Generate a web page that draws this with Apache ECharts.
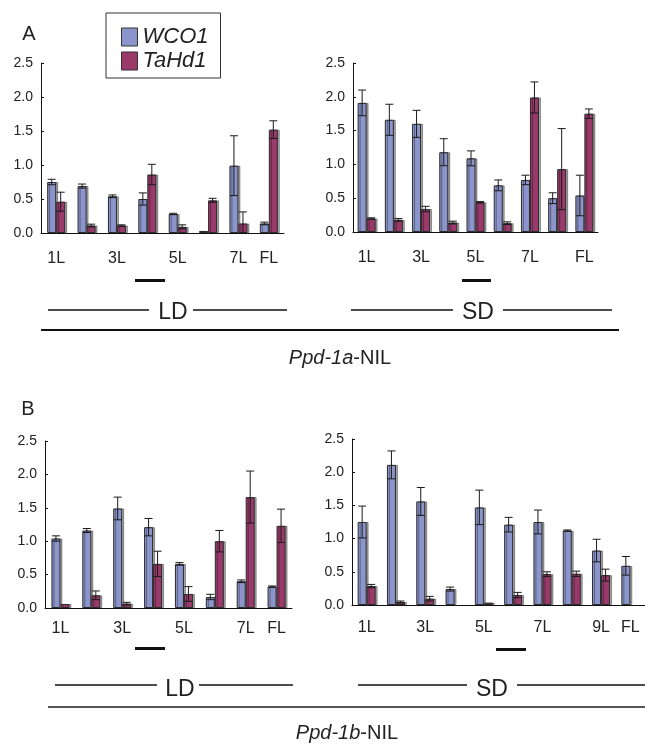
<!DOCTYPE html>
<html>
<head>
<meta charset="utf-8">
<script src="https://cdn.jsdelivr.net/npm/echarts@6/dist/echarts.min.js"></script>
<style>
html,body{margin:0;padding:0;background:#fff;}
#chart{width:645px;height:745px;}
</style>
</head>
<body>
<div id="chart"></div>
<script>
// ---------- DATA ----------
var seriesNames = ['WCO1', 'TaHd1'];
var yTicks = [0, 0.5, 1.0, 1.5, 2.0, 2.5];

// Panel A, LD (Ppd-1a-NIL)
var catsA_LD = ['1L','2L','3L','4L','5L','6L','7L','FL'];
var shownA_LD = ['1L','3L','5L','7L','FL'];
var wco1A_LD = [0.75, 0.69, 0.54, 0.50, 0.28, 0.03, 0.99, 0.14];
var wco1A_LD_err = [0.04, 0.03, 0.02, 0.09, 0.01, 0.0, 0.44, 0.02];
var tahd1A_LD = [0.46, 0.11, 0.11, 0.86, 0.09, 0.48, 0.14, 1.52];
var tahd1A_LD_err = [0.14, 0.02, 0.01, 0.15, 0.03, 0.03, 0.17, 0.13];

// Panel A, SD (Ppd-1a-NIL)
var catsA_SD = ['1L','2L','3L','4L','5L','6L','7L','8L','FL'];
var shownA_SD = ['1L','3L','5L','7L','FL'];
var wco1A_SD = [1.91, 1.66, 1.60, 1.18, 1.09, 0.69, 0.77, 0.50, 0.54];
var wco1A_SD_err = [0.19, 0.23, 0.20, 0.20, 0.11, 0.08, 0.07, 0.08, 0.30];
var tahd1A_SD = [0.20, 0.18, 0.34, 0.14, 0.44, 0.13, 1.99, 0.93, 1.75];
var tahd1A_SD_err = [0.01, 0.02, 0.04, 0.02, 0.01, 0.02, 0.23, 0.60, 0.07];

// Panel B, LD (Ppd-1b-NIL)
var catsB_LD = ['1L','2L','3L','4L','5L','6L','7L','FL'];
var shownB_LD = ['1L','3L','5L','7L','FL'];
var wco1B_LD = [1.04, 1.16, 1.49, 1.21, 0.66, 0.165, 0.40, 0.32];
var wco1B_LD_err = [0.04, 0.03, 0.17, 0.13, 0.02, 0.04, 0.02, 0.01];
var tahd1B_LD = [0.06, 0.19, 0.065, 0.66, 0.21, 1.00, 1.66, 1.23];
var tahd1B_LD_err = [0.0, 0.065, 0.02, 0.19, 0.11, 0.16, 0.39, 0.25];

// Panel B, SD (Ppd-1b-NIL)
var catsB_SD = ['1L','2L','3L','4L','5L','6L','7L','8L','9L','FL'];
var shownB_SD = ['1L','3L','5L','7L','9L','FL'];
var wco1B_SD = [1.25, 2.11, 1.56, 0.24, 1.47, 1.21, 1.25, 1.12, 0.82, 0.59];
var wco1B_SD_err = [0.24, 0.21, 0.21, 0.03, 0.26, 0.11, 0.18, 0.01, 0.17, 0.14];
var tahd1B_SD = [0.285, 0.045, 0.095, null, 0.035, 0.15, 0.465, 0.47, 0.45, null];
var tahd1B_SD_err = [0.025, 0.015, 0.035, null, 0.0, 0.04, 0.035, 0.04, 0.09, null];

// ---------- STYLE ----------
var FONT = "'Liberation Sans', Arial, sans-serif";
var COL_W = '#8c95cb';
var COL_T = '#993a6b';
var BARW = 9;

var panels = [
  {cats: catsA_LD, shown: shownA_LD, w: wco1A_LD, we: wco1A_LD_err, t: tahd1A_LD, te: tahd1A_LD_err,
   grid: {left: 41, top: 63, width: 243, height: 170}, lm: 18},
  {cats: catsA_SD, shown: shownA_SD, w: wco1A_SD, we: wco1A_SD_err, t: tahd1A_SD, te: tahd1A_SD_err,
   grid: {left: 353, top: 63, width: 245, height: 169}, lm: 18},
  {cats: catsB_LD, shown: shownB_LD, w: wco1B_LD, we: wco1B_LD_err, t: tahd1B_LD, te: tahd1B_LD_err,
   grid: {left: 45, top: 441, width: 247, height: 167}, lm: 13},
  {cats: catsB_SD, shown: shownB_SD, w: wco1B_SD, we: wco1B_SD_err, t: tahd1B_SD, te: tahd1B_SD_err,
   grid: {left: 352, top: 439, width: 293, height: 166}, lm: 15}
];

function errRender(sign) {
  return function (params, api) {
    var idx = api.value(0), v = api.value(1), e = api.value(2);
    if (v == null || isNaN(v) || e == null || isNaN(e) || e <= 0) return;
    var c = api.coord([idx, v]);
    var x = c[0] + sign * BARW / 2;
    var hi = api.coord([idx, v + e])[1];
    var lo = api.coord([idx, Math.max(0, v - e)])[1];
    var cap = 4;
    var st = {stroke: '#1a1a1a', lineWidth: 1};
    return {type: 'group', children: [
      {type: 'line', shape: {x1: x, y1: hi, x2: x, y2: lo}, style: st},
      {type: 'line', shape: {x1: x - cap, y1: hi, x2: x + cap, y2: hi}, style: st},
      {type: 'line', shape: {x1: x - cap, y1: lo, x2: x + cap, y2: lo}, style: st}
    ]};
  };
}

var grids = [], xAxes = [], yAxes = [], series = [];
panels.forEach(function (p, i) {
  grids.push(p.grid);
  var shown = p.shown;
  xAxes.push({
    type: 'category', gridIndex: i, data: p.cats,
    axisLine: {lineStyle: {color: '#111', width: 1}},
    axisTick: {inside: true, length: 4, lineStyle: {color: '#111'}},
    axisLabel: {
      interval: function (index, value) { return shown.indexOf(value) >= 0; },
      margin: p.lm, color: '#222', fontSize: 16, fontFamily: FONT
    }
  });
  yAxes.push({
    type: 'value', gridIndex: i, min: yTicks[0], max: yTicks[yTicks.length - 1], interval: 0.5,
    axisLine: {show: true, lineStyle: {color: '#111', width: 1}},
    axisTick: {show: true, inside: true, length: 3, lineStyle: {color: '#111'}},
    splitLine: {show: false},
    axisLabel: {margin: 8, color: '#222', fontSize: 14, fontFamily: FONT,
      formatter: function (v) { return v.toFixed(1); }}
  });
  var common = {type: 'bar', xAxisIndex: i, yAxisIndex: i, barWidth: BARW, barGap: '0%'};
  series.push(Object.assign({}, common, {
    name: 'WCO1', data: p.w,
    itemStyle: {color: COL_W, borderColor: '#2b2b2b', borderWidth: 1,
      shadowColor: 'rgba(0,0,0,0.35)', shadowOffsetX: 2, shadowOffsetY: 0, shadowBlur: 0}
  }));
  series.push(Object.assign({}, common, {
    name: 'TaHd1', data: p.t,
    itemStyle: {color: COL_T, borderColor: '#2b2b2b', borderWidth: 1,
      shadowColor: 'rgba(0,0,0,0.35)', shadowOffsetX: 2, shadowOffsetY: 0, shadowBlur: 0}
  }));
  series.push({
    type: 'custom', name: 'errW' + i, xAxisIndex: i, yAxisIndex: i, z: 10,
    renderItem: errRender(-1), encode: {x: 0, y: 1},
    data: p.w.map(function (v, k) { return [k, v, p.we[k]]; })
  });
  series.push({
    type: 'custom', name: 'errT' + i, xAxisIndex: i, yAxisIndex: i, z: 10,
    renderItem: errRender(1), encode: {x: 0, y: 1},
    data: p.t.map(function (v, k) { return [k, v, p.te[k]]; })
  });
});

function hline(x1, x2, y, w, col) {
  return {type: 'line', shape: {x1: x1, y1: y, x2: x2, y2: y},
    style: {stroke: col || '#111', lineWidth: w || 1.5}};
}
function txt(s, x, y, size, extra) {
  var st = Object.assign({text: s, x: x, y: y, fill: '#222', font: size + 'px ' + FONT,
    textAlign: 'center', textVerticalAlign: 'middle'}, extra || {});
  return {type: 'text', style: st};
}

var graphics = [
  txt('A', 29, 34, 20),
  txt('B', 28, 409, 20),
  // markers under categories
  {type: 'rect', shape: {x: 135, y: 279, width: 30, height: 3}, style: {fill: '#111'}},
  {type: 'rect', shape: {x: 462, y: 279, width: 29, height: 3}, style: {fill: '#111'}},
  {type: 'rect', shape: {x: 135, y: 647, width: 30, height: 3}, style: {fill: '#111'}},
  {type: 'rect', shape: {x: 496, y: 648, width: 30, height: 3}, style: {fill: '#111'}},
  // A day-length lines
  hline(48, 149, 310, 1.5), hline(193, 287, 310, 1.5), txt('LD', 173, 313, 23),
  hline(351, 453, 310, 1.5), hline(503, 612, 310, 1.5), txt('SD', 478, 313, 23),
  hline(41, 619, 330, 1.8),
  {type: 'text', style: {x: 340, y: 358, textAlign: 'center', textVerticalAlign: 'middle',
    rich: {i: {fontStyle: 'italic', fontSize: 20, fontFamily: FONT, fill: '#222'},
           n: {fontSize: 20, fontFamily: FONT, fill: '#222'}},
    text: '{i|Ppd-1a}{n|-NIL}'}},
  // B day-length lines
  hline(55, 157, 685, 1.5), hline(199, 293, 685, 1.5), txt('LD', 180, 690, 23),
  hline(358, 467, 685, 1.5), hline(517, 645, 685, 1.5), txt('SD', 492, 690, 23),
  hline(48, 645, 707, 1.8, '#555'),
  {type: 'text', style: {x: 347, y: 733, textAlign: 'center', textVerticalAlign: 'middle',
    rich: {i: {fontStyle: 'italic', fontSize: 20, fontFamily: FONT, fill: '#222'},
           n: {fontSize: 20, fontFamily: FONT, fill: '#222'}},
    text: '{i|Ppd-1b}{n|-NIL}'}}
];

var chart = echarts.init(document.getElementById('chart'), null, {renderer: 'canvas'});
chart.setOption({
  animation: false,
  backgroundColor: '#fff',
  grid: grids, xAxis: xAxes, yAxis: yAxes, series: series,
  legend: {
    data: seriesNames, orient: 'vertical', left: 106, top: 13,
    padding: [13, 12, 6, 15], itemGap: 2, itemWidth: 16, itemHeight: 18,
    borderColor: '#333', borderWidth: 1, backgroundColor: '#fff',
    icon: 'rect', selectedMode: false,
    itemStyle: {borderColor: '#333', borderWidth: 1, shadowBlur: 0, shadowOffsetX: 0, shadowColor: 'transparent'},
    textStyle: {fontSize: 22, fontStyle: 'italic', fontFamily: FONT, color: '#222', lineHeight: 22}
  },
  graphic: graphics
});
</script>
</body>
</html>
